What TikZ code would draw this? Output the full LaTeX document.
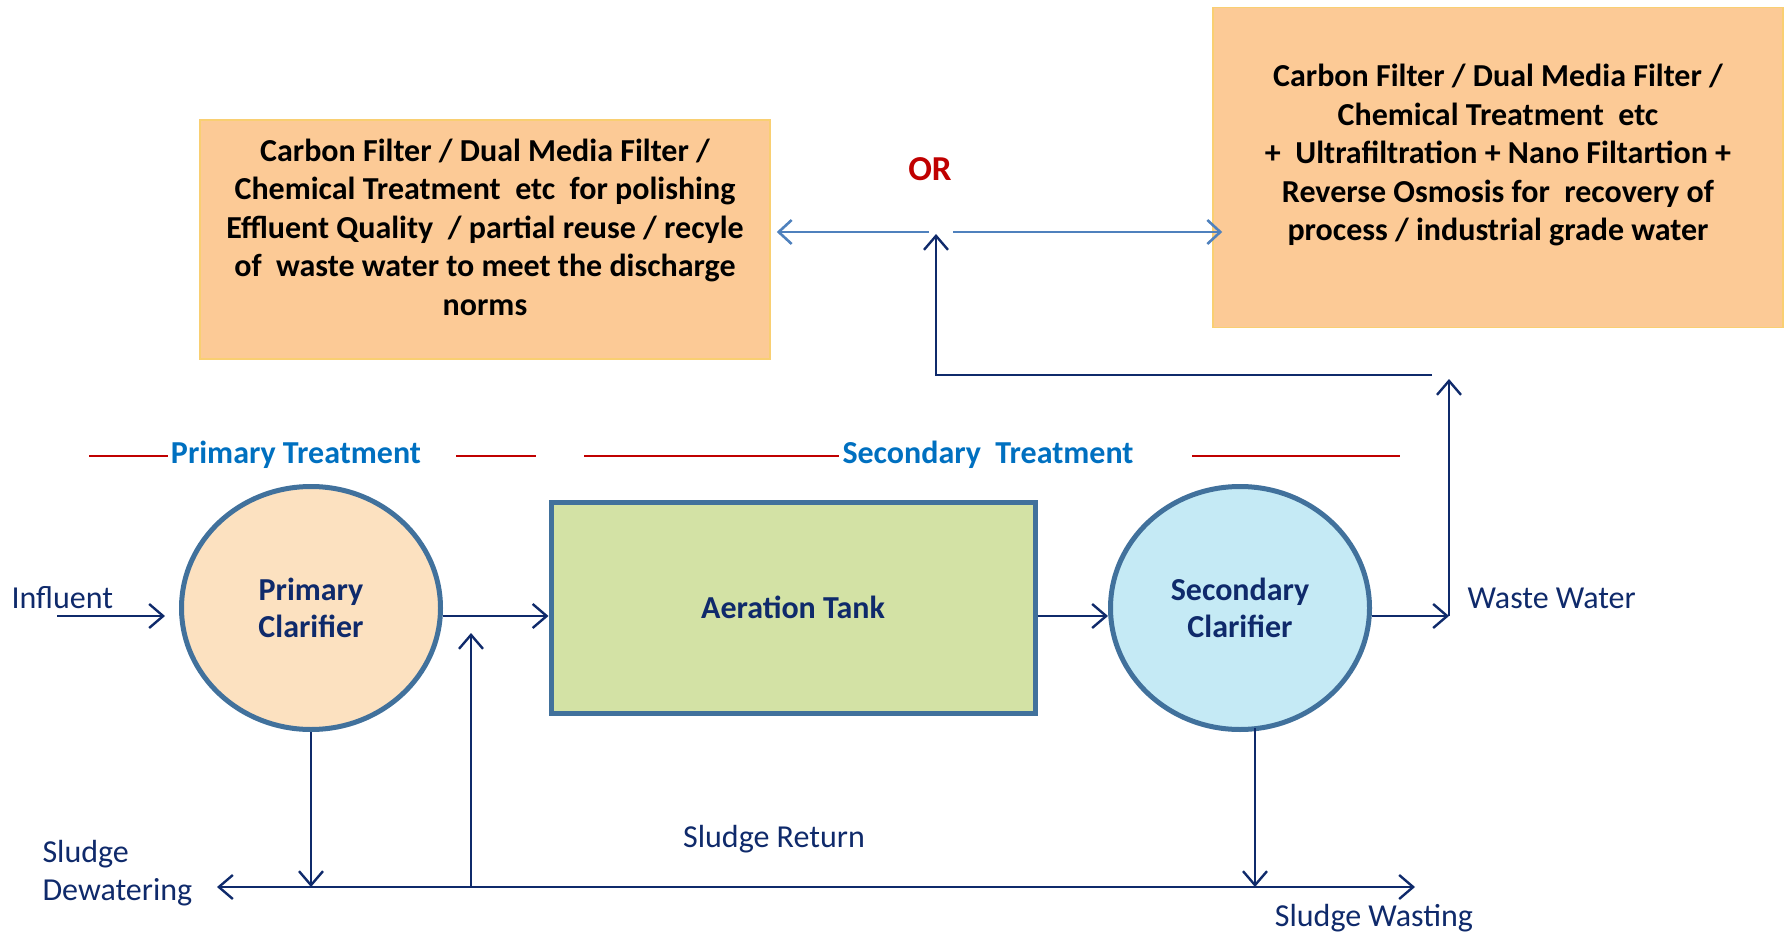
\documentclass[tikz,border=0pt]{standalone}
\usepackage{fontspec}
\setmainfont{Carlito}
\usetikzlibrary{arrows.meta,shapes.geometric}
\definecolor{navy}{HTML}{0F2A6B}
\definecolor{boxfill}{HTML}{FCCA96}
\definecolor{boxline}{HTML}{F9CF72}
\definecolor{pcfill}{HTML}{FCE1C0}
\definecolor{scfill}{HTML}{C5EAF5}
\definecolor{atfill}{HTML}{D3E2A5}
\definecolor{shapeline}{HTML}{41719C}
\definecolor{secblue}{HTML}{0070C0}
\definecolor{redline}{HTML}{C00000}
\definecolor{lightarrow}{HTML}{4F81BD}
\begin{document}
\begin{tikzpicture}[x=1pt,y=-1pt,
  bigtext/.style={font=\fontsize{32}{38.5}\selectfont\bfseries, align=center},
  lbl/.style={font=\fontsize{32}{38}\selectfont, text=navy},
  filterbox/.style={draw=boxline, line width=1.5pt, fill=boxfill, inner sep=0pt},
  clarifier/.style={ellipse, draw=shapeline, line width=5pt, minimum width=259pt, minimum height=243pt, inner sep=0pt, text=navy, font=\fontsize{32}{37.7}\selectfont\bfseries, align=center},
  tankbox/.style={draw=shapeline, line width=5pt, fill=atfill, minimum width=484pt, minimum height=211pt, inner sep=0pt, text=navy, font=\fontsize{32}{38}\selectfont\bfseries},
  arr/.style={draw=navy, line width=2.4pt, -{Straight Barb[length=14pt,width=24pt,line width=2.4pt]}},
  barr/.style={draw=lightarrow, line width=2.6pt, -{Straight Barb[length=13pt,width=24pt,line width=2.6pt]}},
  secline/.style={draw=redline, line width=1.8pt},
  sectext/.style={font=\fontsize{32}{38}\selectfont\bfseries, text=secblue}
]
\useasboundingbox (0,0) rectangle (1789,936);

% top filter boxes
\node[filterbox, minimum width=570pt, minimum height=239pt] (lbox) at (485,239.5) {};
\node[bigtext] (lboxtext) at (485,227) {Carbon Filter / Dual Media Filter /\\ Chemical Treatment\ \ etc\ \ for polishing\\ Effluent Quality\ \ / partial reuse / recyle\\ of\ \ waste water to meet the discharge\\ norms};
\node[filterbox, minimum width=570pt, minimum height=320pt] (rbox) at (1498,167.5) {};
\node[bigtext] (rboxtext) at (1498,155) {Carbon Filter / Dual Media Filter /\\ Chemical Treatment\ \ etc\\ +\ \ Ultrafiltration + Nano Filtartion +\\ Reverse Osmosis for\ \ recovery of\\ process / industrial grade water};
\node[font=\fontsize{35}{40}\selectfont\bfseries, text=redline] (or) at (930,169) {OR};

% section headers
\node[sectext] (ptext) at (296,455) {Primary Treatment};
\node[sectext] (stext) at (988,455) {Secondary\ \ Treatment};
\coordinate (r1a) at (89,456);  \coordinate (r1b) at (168,456);
\coordinate (r2a) at (456,456); \coordinate (r2b) at (536,456);
\coordinate (r3a) at (584,456); \coordinate (r3b) at (839,456);
\coordinate (r4a) at (1192,456);\coordinate (r4b) at (1400,456);
\draw[secline] (r1a) -- (r1b);
\draw[secline] (r2a) -- (r2b);
\draw[secline] (r3a) -- (r3b);
\draw[secline] (r4a) -- (r4b);

% process units
\node[clarifier, fill=pcfill] (pc) at (311,608) {Primary\\ Clarifier};
\node[tankbox] (at) at (793,607.5) {Aeration Tank};
\node[clarifier, fill=scfill] (sc) at (1240,608) {Secondary\\ Clarifier};

% labels
\node[lbl, anchor=west] (infl) at (8,598) {Influent};
\node[lbl, anchor=west] (wwl) at (1464,598) {Waste Water};
\node[lbl] (srl) at (774,839) {Sludge Return};
\node[lbl, anchor=west, align=left] (sdl) at (39,873) {Sludge\\ Dewatering};
\node[lbl] (swl) at (1374,918) {Sludge Wasting};

% main flow row
\coordinate (row) at (0,616);
\coordinate (inflstart) at (57,616);
\draw[arr, shorten >=14pt] (inflstart) -- (inflstart -| pc.west);
\draw[arr] (pc.east |- row) -- (at.west |- row);
\draw[arr] (at.east |- row) -- (sc.west |- row);
\coordinate (ww) at (1449,616);
\coordinate (wwtop) at (1449,379);
\draw[arr] (sc.east |- row) -- (ww);
\draw[arr] (ww) -- (wwtop);

% recovery line to top
\coordinate (h1) at (1432,375);
\coordinate (j) at (936,375);
\coordinate (jt) at (936,234);
\draw[arr] (h1) -- (j) -- (jt);
\coordinate (bl) at (953,232);
\coordinate (blr) at (929,232);
\draw[barr, shorten >=6pt] (blr) -- (lbox.east |- blr);
\draw[barr, shorten >=-10pt] (bl) -- (rbox.west |- bl);

% sludge lines
\coordinate (brow) at (0,887);
\coordinate (ret) at (471,887);
\coordinate (rettop) at (471,633);
\coordinate (sdend) at (217,887);
\coordinate (swend) at (1415,887);
\coordinate (scb) at (1255,728);
\draw[arr] (pc.south) -- (pc.south |- brow);
\draw[arr] (ret) -- (sdend);
\draw[arr] (ret) -- (swend);
\draw[arr] (ret) -- (rettop);
\draw[arr] (scb) -- (scb |- brow);
\end{tikzpicture}
\end{document}
